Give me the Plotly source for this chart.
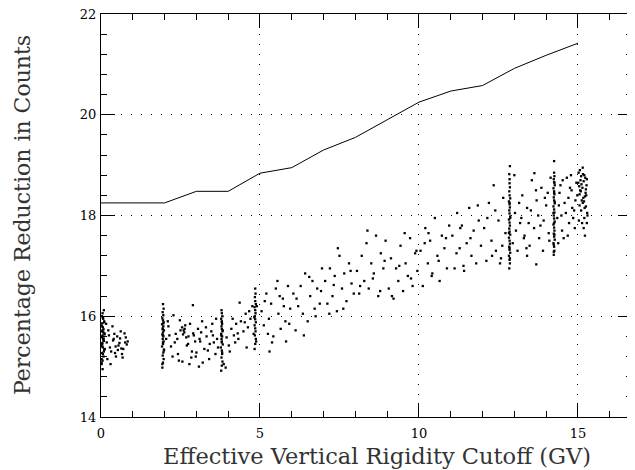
import plotly.graph_objects as go

# ---- model curve ----
model_x = [0, 1, 2, 3, 4, 5, 6, 7, 8, 9, 10, 11, 12, 13, 14, 15]
model_y = [18.25, 18.25, 18.25, 18.48, 18.48, 18.84, 18.95, 19.30, 19.55,
           19.90, 20.25, 20.47, 20.58, 20.92, 21.18, 21.42]

# ---- observations (grouped by region) ----
g1_x = [0.02,0.05,0.08,0.03,0.10,0.06,0.01,0.04,0.09,0.07,0.02,0.05,0.11,0.03,0.08,0.06,0.01,0.04,0.10,0.07,
        0.03,0.05,0.09,0.02,0.06,0.12,0.04,0.08,0.01,0.07,0.05,0.03,0.10,0.06,0.02,0.09,0.04,0.08,0.11,0.05]
g1_y = [15.05,15.12,15.20,15.27,15.33,15.38,15.42,15.47,15.51,15.55,15.58,15.62,15.66,15.70,15.74,15.78,15.82,15.86,15.90,15.95,
        16.00,16.06,16.12,15.15,15.25,15.35,15.45,15.52,15.60,15.68,15.72,15.80,15.88,15.97,15.08,15.30,15.40,15.56,15.64,14.95]

g2_x = [0.18,0.25,0.32,0.40,0.47,0.55,0.62,0.70,0.78,0.84,0.20,0.28,0.36,0.44,0.51,0.58,0.66,0.74,0.81,0.23,
        0.30,0.38,0.46,0.53,0.60,0.68,0.76,0.16,0.42,0.64]
g2_y = [15.48,15.62,15.30,15.55,15.20,15.42,15.70,15.35,15.58,15.50,15.15,15.38,15.80,15.27,15.60,15.47,15.25,15.66,15.44,15.72,
        15.05,15.52,15.40,15.33,15.56,15.18,15.48,15.85,15.65,15.36]

g3_x = [1.93,1.95,1.97,1.94,1.96,1.98,1.92,1.95,1.97,1.94,1.96,1.93,1.95,1.98,1.94,1.96,1.92,1.97,1.95,1.93,
        1.96,1.94,1.97,1.95,1.93,1.98,1.95,1.94,1.96,1.95]
g3_y = [14.98,15.08,15.15,15.22,15.28,15.34,15.40,15.45,15.50,15.55,15.60,15.64,15.68,15.72,15.76,15.80,15.84,15.88,15.92,15.96,
        16.02,16.08,16.15,16.24,15.05,15.32,15.62,15.74,15.86,15.48]

g4_x = [2.05,2.12,2.20,2.28,2.35,2.42,2.50,2.56,2.62,2.68,2.74,2.80,2.86,2.92,2.98,3.05,3.12,3.18,3.25,3.32,
        3.40,3.47,3.55,3.62,3.68,2.10,2.25,2.40,2.55,2.60,2.65,2.70,2.78,2.90,3.00,3.10,3.20,3.30,3.42,3.52,
        3.60,2.15,2.32,2.48,2.58,2.63,2.84,2.96,3.15,3.36,3.50,3.65,2.45,2.75,3.08,2.89]
g4_y = [15.55,15.80,15.40,16.02,15.65,15.25,15.72,15.10,15.68,15.58,15.45,15.85,15.30,15.62,15.20,15.75,15.50,15.90,15.35,15.60,
        15.15,15.70,15.48,15.95,15.38,15.90,15.20,15.55,15.78,15.72,15.82,15.42,15.05,15.66,15.28,15.55,15.08,15.78,15.45,15.62,
        15.25,15.62,15.48,15.92,15.64,15.75,15.18,15.50,15.68,15.32,15.85,15.55,15.12,15.60,15.00,16.22]

g5_x = [3.78,3.80,3.82,3.79,3.81,3.80,3.77,3.83,3.80,3.79,3.81,3.78,3.82,3.80,3.79,3.81,3.80,3.78,3.82,3.80,
        3.79,3.81,3.80,3.78,3.83,3.80,3.86,3.92]
g5_y = [14.92,15.02,15.10,15.18,15.25,15.32,15.38,15.44,15.50,15.55,15.60,15.65,15.70,15.75,15.80,15.85,15.90,15.95,16.00,16.06,
        16.12,15.28,15.48,15.62,15.72,15.88,15.05,14.98]

g6_x = [3.95,4.02,4.10,4.18,4.25,4.32,4.40,4.48,4.55,4.62,4.70,4.76,4.05,4.22,4.36,4.52,4.66,4.30,4.58,4.14]
g6_y = [15.58,15.42,15.75,15.62,15.85,15.55,15.90,15.70,16.05,15.78,15.95,16.20,15.30,15.48,16.27,15.88,16.10,15.66,15.38,15.95]

g7_x = [4.83,4.85,4.87,4.84,4.86,4.85,4.83,4.87,4.85,4.84,4.86,4.85,4.83,4.87,4.85,4.84,4.86,4.85,4.88,4.82,4.90,4.80]
g7_y = [15.35,15.45,15.55,15.62,15.70,15.76,15.82,15.88,15.94,16.00,16.06,16.12,16.18,16.24,16.30,16.38,16.45,16.55,15.50,15.98,16.20,15.65]

g8_x = [5.05,5.12,5.20,5.28,5.35,5.42,5.50,5.58,5.65,5.72,5.80,5.88,5.95,5.15,5.38,5.55,5.75,5.92,5.25,5.62,5.30,5.82,
        6.05,6.12,6.20,6.28,6.35,6.42,6.50,6.58,6.65,6.72,6.80,6.88,6.95,6.15,6.38,6.55,6.75,6.92,
        7.05,7.12,7.20,7.28,7.35,7.42,7.50,7.58,7.65,7.72,7.80,7.88,7.95,7.18,7.45,7.62,7.85,7.32,
        8.05,8.12,8.20,8.28,8.35,8.42,8.50,8.58,8.65,8.72,8.80,8.88,8.95,8.15,8.38,8.55,8.78,8.92,
        9.05,9.12,9.20,9.28,9.35,9.42,9.50,9.58,9.65,9.72,9.80,9.88,9.95,9.15,9.38,9.55,9.75,9.92]
g8_y = [16.10,15.82,16.45,15.95,16.25,15.60,16.55,16.05,15.75,16.35,15.90,16.60,16.15,16.30,15.48,16.70,16.20,15.85,15.65,16.40,15.30,15.50,
        16.45,15.72,16.20,16.60,16.05,16.85,15.90,16.40,16.70,16.15,16.55,16.25,16.95,16.35,15.62,16.78,16.00,16.50,
        16.70,16.25,16.95,16.40,16.80,16.10,17.20,16.55,16.85,16.30,17.05,16.65,16.45,16.05,17.35,16.15,16.90,16.62,
        16.90,16.45,17.20,16.70,17.45,16.55,17.05,16.85,17.60,16.40,17.25,16.95,17.50,16.60,17.70,16.75,16.50,17.10,
        16.55,17.15,16.35,16.95,16.70,17.40,16.50,17.05,16.80,17.55,16.60,17.25,16.90,16.40,17.00,17.65,16.75,17.30]

g9_x = [10.05,10.12,10.20,10.28,10.35,10.42,10.50,10.58,10.65,10.72,10.80,10.88,10.95,10.18,10.40,10.62,10.85,10.30,
        11.05,11.12,11.20,11.28,11.35,11.42,11.50,11.58,11.65,11.72,11.80,11.88,11.95,11.18,11.40,11.62,11.85,11.30,
        12.05,12.12,12.20,12.28,12.35,12.42,12.50,12.58,12.65,12.72,12.15,12.40,12.62,12.30,12.55]
g9_y = [17.30,16.60,17.75,17.05,17.50,16.85,17.95,17.20,16.70,17.60,17.35,16.95,17.80,17.45,16.80,17.10,17.55,17.65,
        17.60,16.95,18.05,17.35,17.80,16.90,17.45,18.15,17.20,17.70,17.05,17.90,17.40,17.25,17.00,17.55,18.20,17.75,
        17.75,17.10,18.25,17.50,18.60,17.30,17.90,17.15,18.35,17.65,17.95,18.10,17.40,17.20,17.05]

g10_x = [12.84,12.86,12.85,12.83,12.87,12.85,12.84,12.86,12.85,12.83,12.87,12.85,12.84,12.86,12.85,12.83,12.87,12.85,12.84,12.86,
         12.85,12.83,12.87,12.85,12.84,12.86,12.85,12.85,12.84,12.86,12.85,12.83,12.87,12.85,12.86]
g10_y = [16.95,17.05,17.12,17.20,17.26,17.32,17.38,17.44,17.50,17.56,17.62,17.68,17.74,17.80,17.86,17.92,17.98,18.04,18.10,18.16,
         18.22,18.28,18.34,18.40,18.48,18.56,18.64,18.72,18.82,18.98,17.35,17.65,17.95,18.25,17.15]

g11_x = [12.95,13.02,13.10,13.18,13.25,13.32,13.40,13.48,13.55,13.62,13.70,13.78,13.85,13.92,14.00,14.08,14.14,13.05,13.22,13.38,
         13.52,13.68,13.82,13.96,14.10,13.15,13.45,13.75,14.05,13.30,13.69,13.40,13.90,13.63,13.00]
g11_y = [17.45,18.05,17.30,17.85,18.40,17.60,18.15,17.40,18.70,17.75,18.30,17.55,18.55,17.90,18.20,17.65,18.75,17.70,17.95,17.35,
         18.10,18.50,17.80,18.35,17.50,18.25,17.85,18.00,18.45,17.55,17.03,17.20,17.30,18.84,18.80]

g12_x = [14.24,14.26,14.25,14.23,14.27,14.25,14.24,14.26,14.25,14.23,14.27,14.25,14.24,14.26,14.25,14.23,14.27,14.25,14.24,14.26,
         14.25,14.23,14.27,14.25,14.24,14.26,14.25,14.25,14.24,14.26,14.25,14.23,14.27,14.25,14.26,14.24]
g12_y = [17.22,17.30,17.38,17.45,17.52,17.58,17.64,17.70,17.76,17.82,17.88,17.94,18.00,18.06,18.12,18.18,18.24,18.30,18.36,18.42,
         18.48,18.54,18.60,18.66,18.72,18.78,18.85,19.08,17.42,17.62,17.85,18.05,18.27,18.45,18.65,17.28]

g13_x = [14.35,14.42,14.50,14.58,14.65,14.72,14.80,14.88,14.95,14.40,14.55,14.70,14.85,14.45,14.62,14.78,14.92,14.38,14.52,14.68,
         14.82,14.98,14.48,14.75,14.90]
g13_y = [17.95,18.45,17.70,18.25,18.75,17.85,18.50,18.10,18.65,18.20,17.55,18.35,17.95,18.60,18.05,18.80,18.30,17.45,18.70,17.60,
         18.15,18.40,18.00,18.55,17.75]

g14_x = [15.02,15.08,15.14,15.20,15.26,15.05,15.11,15.17,15.23,15.29,15.03,15.09,15.15,15.21,15.27,15.06,15.12,15.18,15.24,15.30,
         15.04,15.10,15.16,15.22,15.28,15.07,15.13,15.19,15.25,15.01,15.15,15.20,15.10,15.25,15.05,15.22,15.28,15.18]
g14_y = [18.85,18.70,18.55,18.80,18.40,18.20,18.62,18.35,18.75,18.05,17.90,18.48,18.25,18.15,18.60,18.90,18.30,18.68,18.45,18.00,
         18.58,18.10,18.82,18.38,18.72,18.50,17.85,18.28,18.18,18.65,18.95,17.95,18.78,18.52,18.42,17.60,17.85,17.75]

obs_x = g1_x + g2_x + g3_x + g4_x + g5_x + g6_x + g7_x + g8_x + g9_x + g10_x + g11_x + g12_x + g13_x + g14_x
obs_y = g1_y + g2_y + g3_y + g4_y + g5_y + g6_y + g7_y + g8_y + g9_y + g10_y + g11_y + g12_y + g13_y + g14_y

x_ticks = [0, 5, 10, 15]
y_ticks = [14, 16, 18, 20, 22]

X_RANGE = [0, 16.7]
Y_RANGE = [14, 22]

fig = go.Figure()
fig.add_trace(go.Scatter(x=model_x, y=model_y, mode="lines",
                         line=dict(color="black", width=1), showlegend=False))
fig.add_trace(go.Scatter(x=obs_x, y=obs_y, mode="markers",
                         marker=dict(color="black", size=2.3, symbol="square", line=dict(width=0)),
                         showlegend=False))

tickfont = dict(family="DejaVu Serif, Liberation Serif, serif", size=13, color="black")
axcommon = dict(showline=True, linecolor="black", linewidth=1, mirror="allticks",
                ticks="inside", ticklen=14, tickcolor="black", tickwidth=1,
                zeroline=False, automargin=False, ticklabeloverflow="allow")

fig.update_layout(
    xaxis=dict(range=X_RANGE, tickvals=x_ticks, ticktext=[str(v) for v in x_ticks],
               showgrid=True, gridcolor="black", gridwidth=1, griddash="1px,9px",
               tickfont=tickfont, ticklabelstandoff=4,
               minor=dict(dtick=1, tick0=0, ticks="inside", ticklen=6, tickcolor="black", showgrid=False),
               **axcommon),
    yaxis=dict(range=Y_RANGE, tickvals=y_ticks, ticktext=[str(v) for v in y_ticks],
               showgrid=True, gridcolor="black", gridwidth=1, griddash="1px,9px",
               tickfont=tickfont, ticklabelstandoff=1,
               minor=dict(dtick=0.4, tick0=14, ticks="inside", ticklen=6, tickcolor="black", showgrid=False),
               **axcommon),
)

# page body adds an 8px offset; figure is sized so the plot area sits where the reference has it
titlefont = dict(family="DejaVu Serif, Liberation Serif, serif", size=22.5, color="#333")
fig.update_layout(
    width=627, height=462,
    margin=dict(l=93, r=3, t=6, b=53, autoexpand=False),
    paper_bgcolor="white", plot_bgcolor="white",
    font=dict(family="DejaVu Serif, Liberation Serif, serif", color="black"),
    annotations=[
        dict(text="Effective Vertical Rigidity Cutoff (GV)", xref="paper", yref="paper",
             x=0.519, y=-0.097, xanchor="center", yanchor="middle", showarrow=False,
             font=titlefont),
        dict(text="Percentage Reduction in Counts", xref="paper", yref="paper",
             x=-0.149, y=0.501, xanchor="center", yanchor="middle", showarrow=False,
             textangle=-90, font=dict(titlefont, size=22)),
    ],
)

fig.write_html("out.html")
